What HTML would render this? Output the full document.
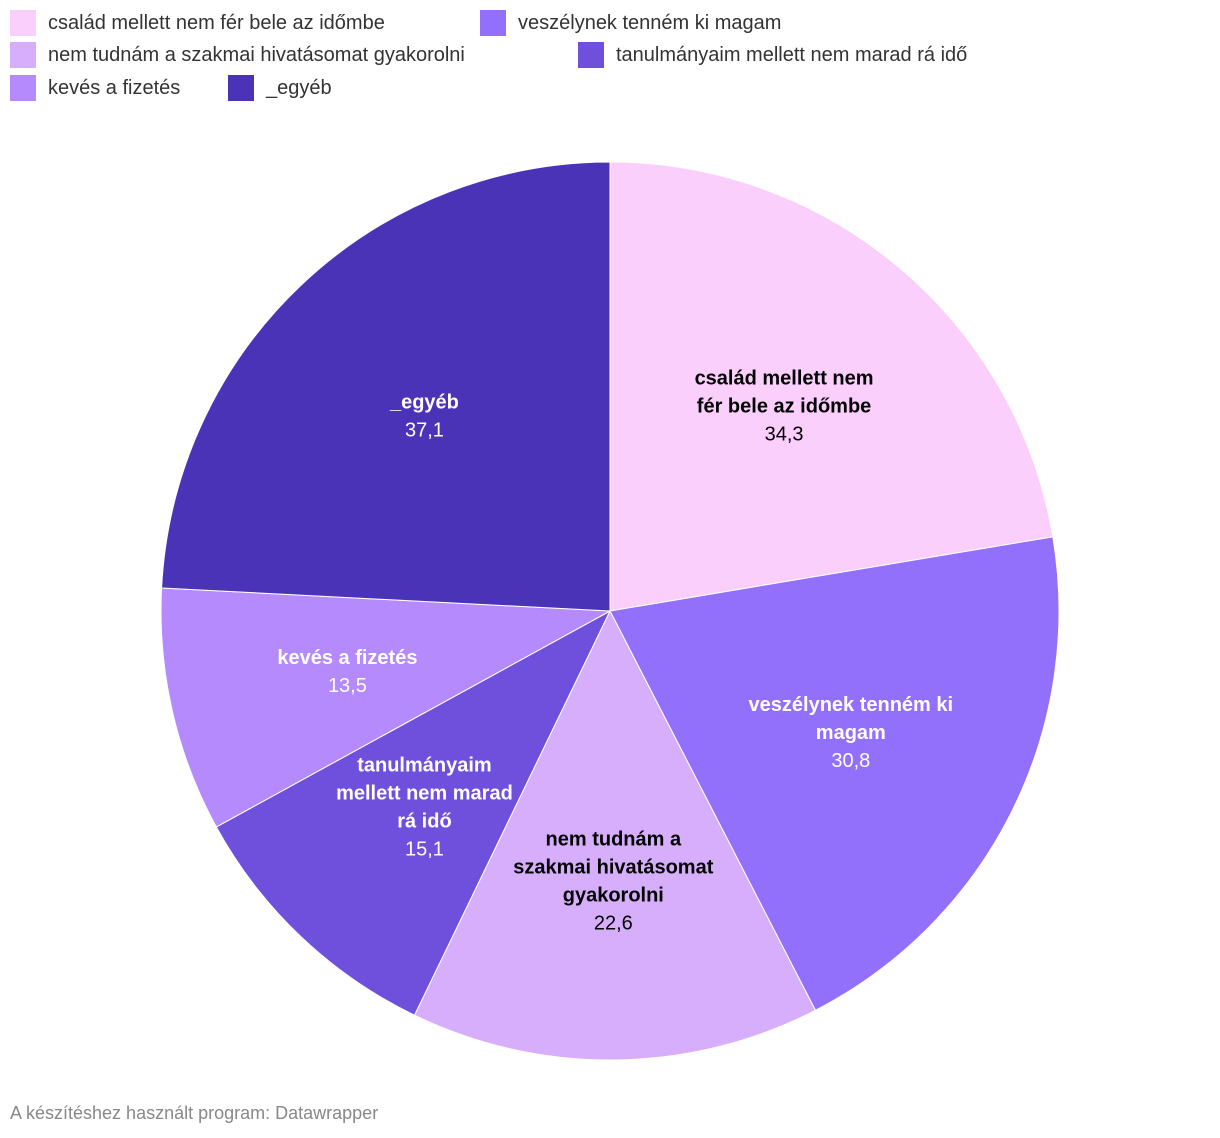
<!DOCTYPE html>
<html><head><meta charset="utf-8"><style>
body{margin:0;background:#fff;font-family:"Liberation Sans",sans-serif;}
.leg{position:absolute;font-size:20px;color:#333;display:flex;align-items:center;white-space:nowrap}
.leg span.sw{display:inline-block;width:26px;height:26px;margin-right:12px}
</style></head><body>
<div style="position:relative;width:1220px;height:1138px;overflow:hidden">
<div>
<div class="leg" style="left:10px;top:10px"><span class="sw" style="background:#fbcffc"></span>család mellett nem fér bele az időmbe</div>
<div class="leg" style="left:480px;top:10px"><span class="sw" style="background:#9370fc"></span>veszélynek tenném ki magam</div>
<div class="leg" style="left:10px;top:42px"><span class="sw" style="background:#d7aefc"></span>nem tudnám a szakmai hivatásomat gyakorolni</div>
<div class="leg" style="left:578px;top:42px"><span class="sw" style="background:#6f50dc"></span>tanulmányaim mellett nem marad rá idő</div>
<div class="leg" style="left:10px;top:75px"><span class="sw" style="background:#b48afc"></span>kevés a fizetés</div>
<div class="leg" style="left:228px;top:75px"><span class="sw" style="background:#4b33b8"></span>_egyéb</div>
</div>
<svg id="pie" width="1220" height="1138" style="position:absolute;left:0;top:0"></svg>
<div style="position:absolute;left:10px;top:1103px;font-size:18px;color:#888">A készítéshez használt program: Datawrapper</div>
</div>
<script>
const categories=[["család mellett nem","fér bele az időmbe"],["veszélynek tenném ki","magam"],["nem tudnám a","szakmai hivatásomat","gyakorolni"],["tanulmányaim","mellett nem marad","rá idő"],["kevés a fizetés"],["_egyéb"]];
const values=[34.3,30.8,22.6,15.1,13.5,37.1];
const valueLabels=["34,3","30,8","22,6","15,1","13,5","37,1"];
const colors=["#fbcffc","#9370fc","#d7aefc","#6f50dc","#b48afc","#4b33b8"];
const textColors=["#000","#fff","#000","#fff","#fff","#fff"];
const svg=document.getElementById('pie');const NS="http://www.w3.org/2000/svg";
const cx=610,cy=611,r=449;
const total=values.reduce((a,b)=>a+b,0);
function pt(a,rr){return [cx+rr*Math.sin(a),cy-rr*Math.cos(a)];}
let acc=0;
values.forEach((v,i)=>{
 const a0=acc/total*2*Math.PI;acc+=v;const a1=acc/total*2*Math.PI;
 const p0=pt(a0,r),p1=pt(a1,r);
 const path=document.createElementNS(NS,'path');
 path.setAttribute('d',`M${cx},${cy}L${p0[0]},${p0[1]}A${r},${r} 0 ${a1-a0>Math.PI?1:0} 1 ${p1[0]},${p1[1]}Z`);
 path.setAttribute('fill',colors[i]);path.setAttribute('stroke','#fff');path.setAttribute('stroke-width','1');
 
 
 svg.appendChild(path);
});
acc=0;
values.forEach((v,i)=>{
 const a0=acc/total*2*Math.PI;acc+=v;const a1=acc/total*2*Math.PI;
 const m=pt((a0+a1)/2,r*0.6);
 const lines=categories[i];const n=lines.length+1;const lh=28;
 const t=document.createElementNS(NS,'text');
 t.setAttribute('text-anchor','middle');t.setAttribute('font-size','20');t.setAttribute('fill',textColors[i]);
 t.setAttribute('font-family','"Liberation Sans",sans-serif');
 
 
 const y0=m[1]-(n-1)*lh/2+7;
 lines.forEach((l,j)=>{const ts=document.createElementNS(NS,'tspan');ts.setAttribute('x',m[0]);ts.setAttribute('y',y0+j*lh);ts.setAttribute('font-weight','bold');ts.textContent=l;t.appendChild(ts);});
 const ts=document.createElementNS(NS,'tspan');ts.setAttribute('x',m[0]);ts.setAttribute('y',y0+lines.length*lh);ts.textContent=valueLabels[i];t.appendChild(ts);
 svg.appendChild(t);
});
</script>
</body></html>
